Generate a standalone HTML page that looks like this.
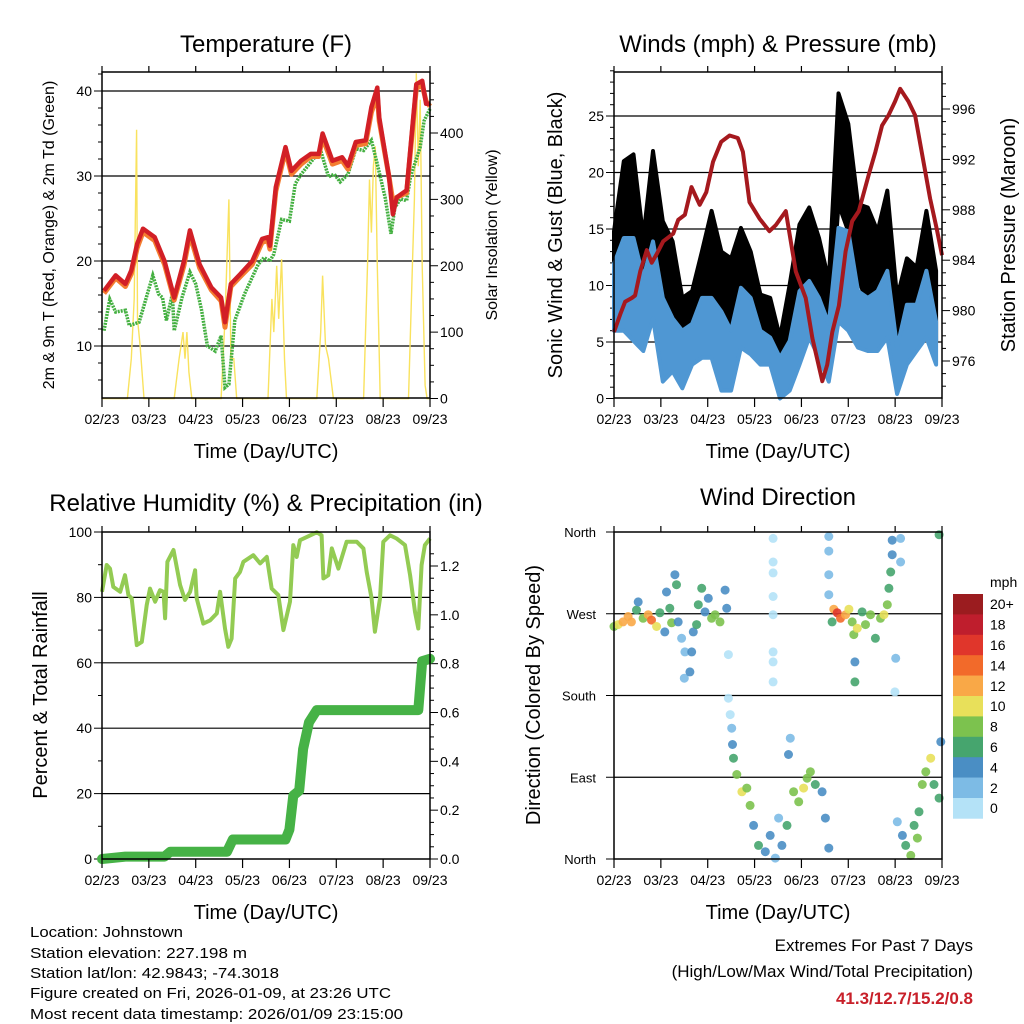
<!DOCTYPE html>
<html><head><meta charset="utf-8"><style>
html,body{margin:0;padding:0;background:#fff}
svg{display:block;font-family:"Liberation Sans",sans-serif}
</style></head><body>
<svg id="chart" width="1024" height="1024" viewBox="0 0 1024 1024" xmlns="http://www.w3.org/2000/svg">
<rect x="0" y="0" width="1024" height="1024" fill="#fff"/>
<g id="g1"></g>
<g id="g2"></g>
<g id="g3"></g>
<g id="g4"></g>
<g font-size="15" fill="#000">
<text x="30" y="937" textLength="153" lengthAdjust="spacingAndGlyphs">Location: Johnstown</text>
<text x="30" y="958" textLength="217" lengthAdjust="spacingAndGlyphs">Station elevation: 227.198 m</text>
<text x="30" y="978" textLength="249" lengthAdjust="spacingAndGlyphs">Station lat/lon: 42.9843; -74.3018</text>
<text x="30" y="998" textLength="361" lengthAdjust="spacingAndGlyphs">Figure created on Fri, 2026-01-09, at 23:26 UTC</text>
<text x="30" y="1019" textLength="373" lengthAdjust="spacingAndGlyphs">Most recent data timestamp: 2026/01/09 23:15:00</text>
</g>
<g font-size="17" text-anchor="end">
<text x="973" y="951">Extremes For Past 7 Days</text>
<text x="973" y="977">(High/Low/Max Wind/Total Precipitation)</text>
<text x="973" y="1004" font-weight="bold" fill="#c8202a">41.3/12.7/15.2/0.8</text>
</g>
</svg>
<script>
// ---------- data ----------
const dayLabels = ["02/23","03/23","04/23","05/23","06/23","07/23","08/23","09/23"];
const tempT = [1,7,12,15,18,21,27,32,37,42,45,50,56,61,63,66,71,77,82,85,86,89,94,97,102,107,111,113,118,123,126,130,135,138,141,142,147,149,151,156,161,164,166,168];
const temp2m = [16.5,18.3,17.3,18.9,22.0,23.8,22.8,20.0,15.7,20.0,23.6,19.6,16.9,15.7,12.8,17.3,18.5,20.0,22.6,22.8,21.8,28.7,33.4,30.6,31.8,32.6,32.6,35.0,31.8,32.2,31.2,34.0,34.2,38.1,40.4,36.9,29.9,25.5,27.5,28.3,40.8,41.2,38.5,38.5];
const temp9m = [16.2,18.0,17.0,18.5,21.5,23.4,22.4,19.6,15.4,19.5,23.1,19.2,16.6,15.3,12.2,17.0,18.2,19.6,22.2,22.4,21.4,28.2,33.0,30.2,31.4,32.3,32.3,34.5,31.4,31.8,30.8,33.6,33.8,37.5,39.5,36.5,29.9,27.0,27.5,28.0,40.3,40.7,38.8,38.2];
const dewT = [1,4,7,12,14,19,26,29,31,33,36,37,41,45,48,51,54,58,61,63,65,68,73,80,83,86,88,92,96,99,102,109,112,116,119,122,126,130,134,138,141,145,148,150,153,156,158,163,165,168];
const dewV = [11.8,15.5,14.0,14.2,12.4,12.8,18.3,16.1,15.7,13.0,16.1,11.8,15.7,18.7,17.3,14.2,10.0,9.4,11.2,5.1,5.5,13.0,16.1,19.6,20.4,20.0,20.8,24.9,24.7,29.1,30.2,32.2,33.0,29.9,30.2,29.3,30.2,33.2,33.0,34.2,31.4,27.5,23.2,26.3,27.3,27.1,29.9,33.4,36.5,37.9];
const solarT = [0,13,15,16.5,17.7,18.2,19.5,21.5,37,39.5,40.5,41.5,42.5,43.5,44.5,46,61,63,65,66,67.5,69,85,87,88,89.5,90.5,92,93.5,94.5,110,112,113,114.5,116,118.5,134,136,137,138,139,140,141,142.5,157,159,160,161,162,163,164,165.5,166.5,168];
const solarV = [0,0,60,150,405,120,80,0,0,60,80,100,60,100,40,0,0,120,300,60,60,0,0,150,100,200,120,210,60,0,0,100,185,80,60,0,0,200,330,250,350,380,200,0,0,200,300,490,350,450,200,20,0,0];

const windT = [0,5,10,15,20,25,30,35,40,45,50,55,60,65,70,75,80,85,90,95,100,105,110,115,120,125,130,135,140,145,150,155,160,165];
const gustHi = [14.8,21.0,21.6,14.2,21.9,15.7,13.9,8.9,9.5,13.0,16.6,13.0,12.4,15.1,13.0,9.2,8.9,5.4,10.1,15.4,16.9,14.2,10.4,27.0,24.3,17.2,16.9,14.8,18.4,8.9,12.4,11.6,16.6,11.3];
const gustLo = [6.6,13.0,11.9,8.9,13.0,7.7,6.8,3.0,4.5,7.4,8.9,5.4,3.6,8.9,7.4,6.0,5.1,0.7,4.2,6.8,8.9,8.3,5.1,17.2,14.8,10.7,8.3,8.9,11.6,3.0,7.7,7.1,8.9,5.1];
const windHi = [11.9,14.2,14.2,10.7,13.9,8.9,7.1,6.0,6.6,8.9,8.9,7.7,6.0,9.8,8.9,6.0,5.4,3.6,5.1,9.5,10.4,8.9,6.6,15.1,14.8,9.5,8.9,9.5,11.3,4.5,8.3,8.3,11.3,6.8];
const windLo = [6.0,6.0,5.1,4.2,7.1,1.5,2.4,0.9,3.0,3.6,3.6,0.7,0.7,4.5,3.9,3.0,3.0,0,0.7,3.0,5.4,3.6,1.5,6.8,6.0,4.5,4.2,4.2,5.4,0.4,3.0,4.2,5.4,3.0];
const presT = [0,3.2,5.7,9.1,10.8,13.4,16.8,19.3,21.9,25.2,30.3,32.9,36.3,39.7,43.9,47.3,50.7,54.9,59.2,63.4,66,69.4,74.5,79.6,83,88,89.7,93.1,98.2,101.6,106.7,109.2,111.8,115.2,118.6,122,125.4,130.5,133.9,137.3,140.6,144,146.6,150.8,154.2,158.5,161.9,165.3,168];
const presV = [978.3,979.7,980.7,981.0,981.2,983.1,984.8,983.8,984.5,985.5,986.1,987.2,987.6,989.8,988.4,989.4,991.8,993.4,993.9,993.7,992.6,988.6,987.3,986.3,986.8,987.9,986.3,983.1,981.0,977.8,974.4,975.7,978.3,980.4,984.7,987.1,987.9,990.8,992.6,994.7,995.5,996.6,997.6,996.6,995.5,991.8,988.9,986.5,984.4];

const rhT = [0,2.4,4.1,5.8,9.3,11.8,13.5,15.2,17.8,20.4,22.9,24.6,27.2,29.7,31.5,32.3,33.5,36.6,40,42.5,45.1,47.7,48.5,51.9,55.4,58.8,60.5,63,64.7,66.4,68.2,70.7,72.4,77.5,81,84.4,86.9,90.3,92.9,96.3,98,99.7,101.4,110,112.5,113.4,115.9,117.7,121.1,125.3,130.5,133.9,135.6,138.1,139.8,142.4,144.1,147.5,150.9,155.2,157.8,160.3,162,163.7,165.4,168];
const rhV = [81.7,89.9,88.8,83.2,81.7,86.8,80.7,79.7,65.4,66.4,77.6,82.7,78.7,82.2,81.7,73.6,90.9,94.5,83.8,79.2,81.7,88.3,79.7,72.0,73.0,75.1,81.7,70.5,64.9,67.4,85.8,87.8,90.9,92.9,90.4,92.4,82.7,80.7,70.0,78.7,96.0,92.4,97.5,99.9,99.0,85.8,86.8,95.0,88.8,97.0,97.0,95.0,87.8,79.7,69.5,79.7,97.0,99.0,98.0,96.0,86.8,75.6,70.5,89.9,96.0,98.0];
const rainT = [0,12,32,35,64,67,94,96,98,101,103,106,110,162,164,168];
const rainV = [0,0.01,0.01,0.03,0.03,0.08,0.08,0.12,0.26,0.28,0.45,0.56,0.61,0.61,0.81,0.82];

const dirT = [0,2.1,4.6,7.2,8.9,11.5,12.4,14.9,17.5,19.2,21.8,23.5,26,26.9,28.6,29.5,31.2,32,32.9,34.6,36.3,36,38.9,39.8,40.6,42.3,43.2,44.9,46.6,48.3,50,51.8,54.3,56.9,57.7,58.6,58.6,59.5,60.3,60.7,61.2,62.9,65.5,68,69.7,71.5,74,77.5,80,82.6,84.3,86,88.6,89.4,90.3,92,94.6,97.1,98.9,100.6,103.1,106.6,108.3,110,81.5,81.5,81.5,81.5,81.5,81.5,81.5,81.5,110,110,110,110,111.7,112.6,114.3,116,118.6,120.3,122,122.8,123.4,123.4,124.6,127.1,128.8,131.4,133.9,136.5,138.3,140,140.8,141.7,142.5,142.5,144.3,143.9,146.8,146.8,145.1,147.7,149.4,152,153.7,155.4,156.2,157.9,159.7,162.2,163.9,166.5,167.4,166.5];
const dirV = [256,258,261,267,261,274,283,265,269,263,256,271,250,294,276,260,313,302,261,243,228,199,206,228,250,258,280,298,272,287,265,269,261,296,276,225,177,159,144,126,111,93,74,78,59,37,15,8,26,1,45,15,37,115,133,74,63,78,89,96,82,74,45,12,353,327,315,289,269,228,217,195,355,339,313,291,261,275,271,265,269,275,261,247,217,195,254,272,258,269,243,265,269,280,298,316,335,351,221,184,353,327,41,26,15,4,37,23,52,82,96,111,82,67,129,357];
const dirS = [8,10,12,12,13,6,4,8,12,14,10,6,4,4,6,8,4,6,4,2,2,2,4,4,4,6,6,6,4,4,8,8,8,4,4,1,1,1,2,4,6,8,10,8,8,4,6,4,4,2,2,4,6,4,2,8,8,10,8,8,6,4,4,4,0,0,1,1,1,0,1,1,2,2,2,2,6,12,16,14,12,10,8,8,4,6,10,6,8,8,6,8,10,8,6,6,4,4,2,1,2,2,2,4,6,8,6,8,6,8,8,10,6,6,4,6];
const cbLabels = ["0","2","4","6","8","10","12","14","16","18","20+"];
const cbColors = ["#b4e2f7","#7dbbe5","#4a8ec4","#46a56e","#7cc24e","#e8e05a","#f9a847","#f26a2a","#e0362b","#bf1e2d","#9b1c1f"];

// ---------- helpers ----------
const NS = "http://www.w3.org/2000/svg";
function mk(tag, attrs, parent){const e=document.createElementNS(NS,tag);for(const k in attrs)e.setAttribute(k,attrs[k]);parent.appendChild(e);return e;}
function txt(parent,x,y,s,size,anchor,extra){const e=mk('text',Object.assign({x:x,y:y,'font-size':size,'text-anchor':anchor||'middle'},extra||{}),parent);e.textContent=s;return e;}
function lin(d0,d1,r0,r1){return v=>r0+(v-d0)*(r1-r0)/(d1-d0);}
function pathD(T,V,sx,sy){return T.map((t,i)=>(i?'L':'M')+sx(t).toFixed(1)+','+sy(V[i]).toFixed(1)).join(' ');}
function bandD(T,H,L,sx,sy){let d=T.map((t,i)=>(i?'L':'M')+sx(t).toFixed(1)+','+sy(H[i]).toFixed(1)).join(' ');for(let i=T.length-1;i>=0;i--)d+='L'+sx(T[i]).toFixed(1)+','+sy(L[i]).toFixed(1);return d+'Z';}

function frame(g,L,R,T,B,sx){
  dayLabels.forEach((lab,i)=>{
    const x=sx(i*24);
    const tk=mk('line',{x1:x,x2:x,y1:B,y2:B+9,stroke:'#000','stroke-width':1.2},g);
    
    
    const tt=mk('line',{x1:x,x2:x,y1:T,y2:T-6,stroke:'#000','stroke-width':1.2},g);
    
    
    const t=txt(g,x,B+26,lab,14);
    
    
  });
}
function box(g,L,R,T,B){
  const r=mk('rect',{x:L,y:T,width:R-L,height:B-T,fill:'none',stroke:'#000','stroke-width':1.5},g);
  
  
}
function grid(g,L,R,y){
  const l=mk('line',{x1:L,x2:R,y1:y,y2:y,stroke:'#000','stroke-width':1.2},g);
  
  
}
function ytick(g,x,y,len){
  const l=mk('line',{x1:x,x2:x+len,y1:y,y2:y,stroke:'#000','stroke-width':1},g);
  
  
}

// ---------- panel 1: temperature ----------
(function(){
  const g=document.getElementById('g1');
  const L=102,R=430,T=72,B=398;
  const sx=lin(0,168,L,R), sy=lin(10,40,346,91), ss=lin(0,400,398.5,133);
  const tt=txt(g,266,52,'Temperature (F)',24);
  
  
  [10,20,30,40].forEach(v=>{grid(g,L,R,sy(v));const t=txt(g,L-10,sy(v)+5,String(v),14,'end');ytick(g,L-8,sy(v),8);});
  for(let v=6;v<=42;v+=2){if(v%10)ytick(g,L-4,sy(v),4);}
  [0,100,200,300,400].forEach(v=>{const t=txt(g,R+10,ss(v)+5,String(v),14,'start');ytick(g,R,ss(v),8);});
  for(let v=25;v<=475;v+=25){if(v%100)ytick(g,R,ss(v),4);}
  const so=mk('path',{d:pathD(solarT,solarV,sx,ss),fill:'none',stroke:'#f9e25e','stroke-width':1.4},g);
  
  
  const dw=mk('path',{d:pathD(dewT,dewV,sx,sy),fill:'none',stroke:'#44b041','stroke-width':3.5,'stroke-dasharray':'2,1'},g);
  
  
  const o=mk('path',{d:pathD(tempT,temp9m,sx,sy),fill:'none',stroke:'#f47d30','stroke-width':5,'stroke-linejoin':'round'},g);
  
  
  const r=mk('path',{d:pathD(tempT,temp2m,sx,sy),fill:'none',stroke:'#d21f26','stroke-width':4.5,'stroke-linejoin':'round'},g);
  
  
  box(g,L,R,T,B);frame(g,L,R,T,B,sx);
  const xt=txt(g,266,458,'Time (Day/UTC)',20);
  
  
  const yl=txt(g,0,0,'2m & 9m T (Red, Orange) & 2m Td (Green)',16,'middle',{transform:'translate(54,235) rotate(-90)'});
  
  
  const yr=txt(g,0,0,'Solar Insolation (Yellow)',16,'middle',{transform:'translate(497,235) rotate(-90)'});
  
  
})();

// ---------- panel 2: winds ----------
(function(){
  const g=document.getElementById('g2');
  const L=614,R=942,T=72,B=398;
  const sx=lin(0,168,L,R), sy=lin(0,25,398.5,116), sp=lin(976,996,361,109);
  const tt=txt(g,778,52,'Winds (mph) & Pressure (mb)',24);
  
  
  [0,5,10,15,20,25].forEach(v=>{if(v>0)grid(g,L,R,sy(v));const t=txt(g,L-10,sy(v)+5,String(v),14,'end');ytick(g,L-8,sy(v),8);});
  for(let v=1;v<=29;v++){if(v%5)ytick(g,L-4,sy(v),4);}
  [976,980,984,988,992,996].forEach(v=>{const t=txt(g,R+10,sp(v)+5,String(v),14,'start');ytick(g,R,sp(v),8);});
  for(let v=974;v<=998;v++){if(v%4)ytick(g,R,sp(v),4);}
  const gb=mk('path',{d:bandD(windT,gustHi,gustLo,sx,sy),fill:'#000',stroke:'#000','stroke-width':4,'stroke-linejoin':'round'},g);
  
  
  const wb=mk('path',{d:bandD(windT,windHi,windLo,sx,sy),fill:'#4f97d3',stroke:'#4f97d3','stroke-width':4,'stroke-linejoin':'round'},g);
  
  
  const p=mk('path',{d:pathD(presT,presV,sx,sp),fill:'none',stroke:'#a5191e','stroke-width':4,'stroke-linejoin':'round'},g);
  
  
  box(g,L,R,T,B);frame(g,L,R,T,B,sx);
  const xt=txt(g,778,458,'Time (Day/UTC)',20);
  
  
  const yl=txt(g,0,0,'Sonic Wind & Gust (Blue, Black)',20,'middle',{transform:'translate(562,235) rotate(-90)'});
  
  
  const yr=txt(g,0,0,'Station Pressure (Maroon)',20,'middle',{transform:'translate(1015,235) rotate(-90)'});
  
  
})();

// ---------- panel 3: humidity ----------
(function(){
  const g=document.getElementById('g3');
  const L=102,R=430,T=532,B=859;
  const sx=lin(0,168,L,R), sy=lin(0,100,859,532), sr=lin(0,1.2,859,566);
  const tt=txt(g,266,511,'Relative Humidity (%) & Precipitation (in)',24);
  
  
  [0,20,40,60,80,100].forEach(v=>{if(v>0&&v<100)grid(g,L,R,sy(v));const t=txt(g,L-10,sy(v)+5,String(v),14,'end');ytick(g,L-8,sy(v),8);});
  for(let v=10;v<=90;v+=20)ytick(g,L-4,sy(v),4);
  [0,0.2,0.4,0.6,0.8,1.0,1.2].forEach(v=>{const t=txt(g,R+10,sr(v)+5,v.toFixed(1),14,'start');ytick(g,R,sr(v),8);});
  for(let v=0.05;v<1.3;v+=0.05){if(Math.abs(v*5-Math.round(v*5))>0.01)ytick(g,R,sr(v),4);}
  const rn=mk('path',{d:pathD(rainT,rainV,sx,sr),fill:'none',stroke:'#46b246','stroke-width':10,'stroke-linejoin':'round','stroke-linecap':'round'},g);
  
  
  const rh=mk('path',{d:pathD(rhT,rhV,sx,sy),fill:'none',stroke:'#93cb53','stroke-width':4,'stroke-linejoin':'round'},g);
  
  
  box(g,L,R,T,B);frame(g,L,R,T,B,sx);
  const xt=txt(g,266,919,'Time (Day/UTC)',20);
  
  
  const yl=txt(g,0,0,'Percent & Total Rainfall',20,'middle',{transform:'translate(47,695) rotate(-90)'});
  
  
})();

// ---------- panel 4: wind direction ----------
(function(){
  const g=document.getElementById('g4');
  const L=614,R=942,T=532,B=859;
  const sx=lin(0,168,L,R), sy=lin(0,360,859,532);
  const tt=txt(g,778,505,'Wind Direction',24);
  
  
  const names=['North','East','South','West','North'];
  [0,90,180,270,360].forEach((v,i)=>{if(v>0&&v<360)grid(g,L,R,sy(v));const t=txt(g,L-18,sy(v)+5,names[i],13,'end');ytick(g,L-8,sy(v),8);});
  dirT.forEach((t,i)=>{
    const ci=Math.min(10,Math.floor(dirS[i]/2));
    const c=mk('circle',{cx:sx(t).toFixed(1),cy:sy(dirV[i]).toFixed(1),r:4.5,fill:cbColors[ci],opacity:0.9},g);
    
    
  });
  box(g,L,R,T,B);frame(g,L,R,T,B,sx);
  const xt=txt(g,778,919,'Time (Day/UTC)',20);
  
  
  const yl=txt(g,0,0,'Direction (Colored By Speed)',20,'middle',{transform:'translate(540,695) rotate(-90)'});
  
  
  const cb=mk('g',{},g);
  
  
  const top=594,h=20.4;
  cbColors.slice().reverse().forEach((col,k)=>{
    const r=mk('rect',{x:953,y:top+k*h,width:30,height:h+0.3,fill:col},cb);
    
    
    const t=txt(cb,990,top+k*h+h/2+5,cbLabels[10-k],14,'start');
    
    
  });
  const u=txt(cb,990,587,'mph',14,'start');
  
  
})();
</script>
</body></html>
